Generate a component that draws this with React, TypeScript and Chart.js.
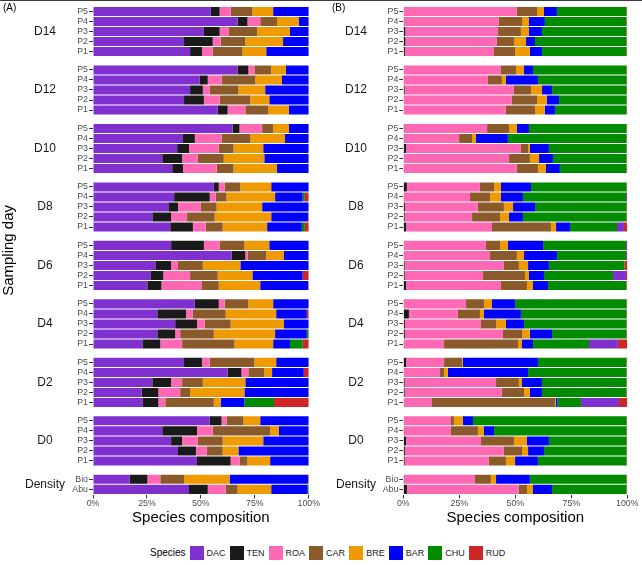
import { useEffect, useRef } from "react";
import { Chart, registerables } from "chart.js";

Chart.register(...registerables);

const days = ["D14", "D12", "D10", "D8", "D6", "D4", "D2", "D0"];
const plots = ["P5", "P4", "P3", "P2", "P1"];
const densityRows = ["Bio", "Abu"];
const groupLabels = [...days, "Density"];
const rowLabels = [...days.flatMap(() => plots), ...densityRows];

const species = ["DAC", "TEN", "ROA", "CAR", "BRE", "BAR", "CHU", "RUD"];
const speciesColors: Record<string, string> = {
  DAC: "#8030CF",
  TEN: "#1A1A1A",
  ROA: "#FF69B4",
  CAR: "#8B5A2B",
  BRE: "#EE9A00",
  BAR: "#0000FF",
  CHU: "#008B00",
  RUD: "#CD2626",
};

// Panel (A), rows top to bottom: D14 P5..P1, D12 ..., D0, Bio, Abu
const dacA = [
  54.6, 67.0, 51.4, 42.2, 45.0,
  67.0, 49.5, 45.0, 42.2, 57.8,
  64.7, 41.7, 39.0, 32.1, 36.7,
  56.0, 37.6, 34.9, 27.5, 35.8,
  36.2, 64.2, 28.9, 26.6, 25.2,
  47.2, 29.8, 38.1, 29.8, 22.9,
  42.2, 62.4, 27.5, 22.5, 22.9,
  54.1, 32.1, 36.2, 39.4, 48.2,
  17.0, 44.5,
];
const tenA = [
  4.1, 4.6, 7.3, 13.3, 5.5,
  5.0, 3.7, 5.9, 9.2, 4.6,
  3.2, 5.5, 5.5, 9.2, 5.0,
  2.3, 16.5, 4.5, 8.7, 10.5,
  15.2, 6.4, 7.3, 6.0, 6.5,
  11.1, 13.3, 10.1, 8.3, 8.3,
  8.3, 6.4, 8.7, 7.8, 7.4,
  5.5, 16.1, 5.1, 8.3, 15.6,
  8.2, 8.7,
];
const roaA = [
  5.1, 5.9, 4.1, 3.7, 5.0,
  2.8, 6.4, 3.2, 7.3, 8.2,
  10.5, 12.4, 13.8, 7.3, 15.6,
  2.7, 2.8, 10.6, 7.4, 6.0,
  7.3, 1.0, 3.2, 12.4, 18.8,
  2.7, 3.2, 3.6, 2.3, 10.1,
  3.6, 3.2, 5.1, 10.1, 3.2,
  2.3, 7.3, 7.3, 5.1, 4.1,
  6.0, 8.3,
];
const carA = [
  10.1, 7.8, 13.3, 11.4, 13.8,
  7.8, 15.6, 13.3, 14.2, 10.6,
  5.1, 13.3, 6.8, 12.0, 7.8,
  7.3, 5.0, 7.3, 12.8, 7.8,
  11.5, 8.7, 11.5, 12.8, 7.8,
  11.0, 15.2, 12.0, 15.6, 24.3,
  20.7, 7.4, 9.6, 4.6, 22.5,
  7.8, 26.6, 11.5, 7.3, 3.7,
  11.0, 5.5,
];
const breA = [
  9.6, 10.1, 15.2, 17.5, 11.0,
  6.8, 12.4, 12.4, 8.8, 9.6,
  7.3, 16.1, 13.8, 18.8, 20.2,
  14.3, 22.5, 21.1, 26.2, 20.6,
  11.5, 8.2, 17.4, 16.1, 19.2,
  11.5, 23.4, 24.7, 28.4, 17.9,
  10.1, 3.6, 19.7, 25.2, 3.2,
  7.8, 4.1, 18.8, 7.3, 10.5,
  21.1, 15.6,
];
const barA = [
  16.5, 4.6, 8.7, 11.9, 19.7,
  10.6, 12.4, 20.2, 18.3, 9.2,
  9.2, 11.0, 21.1, 20.6, 14.7,
  17.4, 12.8, 21.6, 17.1, 16.1,
  18.3, 11.5, 31.7, 23.3, 22.2,
  16.5, 14.2, 11.5, 14.7, 7.8,
  15.1, 14.7, 29.4, 29.8, 11.0,
  22.5, 13.8, 21.1, 32.6, 17.9,
  36.4, 16.9,
];
const chuA = [
  0, 0, 0, 0, 0,
  0, 0, 0, 0, 0,
  0, 0, 0, 0, 0,
  0, 1.0, 0, 0, 1.4,
  0, 0, 0, 0, 0,
  0, 0, 0, 0.9, 5.9,
  0, 0, 0, 0, 13.7,
  0, 0, 0, 0, 0,
  0, 0.5,
];
const rudA = [
  0, 0, 0, 0, 0,
  0, 0, 0, 0, 0,
  0, 0, 0, 0, 0,
  0, 1.8, 0, 0.3, 1.8,
  0, 0, 0, 2.8, 0.3,
  0, 0.9, 0, 0, 2.8,
  0, 2.3, 0, 0, 16.1,
  0, 0, 0, 0, 0,
  0.3, 0,
];

// Panel (B), same row order
const tenB = [
  0.3, 0.4, 0.9, 0.9, 0.7,
  0.3, 0.3, 0.6, 0.3, 0.2,
  0.4, 0.4, 1.2, 0.3, 0.2,
  1.6, 0.3, 0.7, 0.6, 1.2,
  0.3, 0.3, 0.6, 0.6, 1.2,
  0.3, 2.5, 0.7, 0.7, 0.2,
  1.2, 0.3, 0.6, 0.6, 0.3,
  0.3, 0.4, 1.2, 0.7, 0.6,
  0.4, 1.6,
];
const roaB = [
  50.4, 42.3, 41.4, 40.9, 39.8,
  43.3, 37.5, 48.8, 48.2, 45.6,
  37.0, 24.5, 51.3, 46.9, 50.5,
  32.6, 29.5, 32.6, 30.1, 38.4,
  36.6, 38.4, 44.3, 35.0, 42.4,
  27.7, 21.9, 34.0, 43.8, 18.0,
  17.0, 16.1, 40.8, 43.4, 12.5,
  21.0, 20.9, 33.5, 44.2, 37.6,
  31.6, 50.0,
];
const carB = [
  9.0, 10.3, 10.2, 7.6, 9.4,
  6.7, 6.2, 7.6, 11.2, 13.0,
  9.8, 5.8, 3.2, 9.3, 9.4,
  6.3, 8.9, 11.6, 12.5, 26.3,
  6.3, 12.0, 6.7, 18.7, 11.6,
  8.0, 9.8, 6.7, 8.5, 33.0,
  8.0, 1.8, 10.2, 9.9, 54.9,
  1.3, 12.0, 14.7, 8.1, 7.6,
  7.1, 3.6,
];
const breB = [
  3.1, 3.1, 3.6, 5.4, 6.6,
  3.6, 1.8, 4.9, 4.4, 4.4,
  3.5, 1.7, 0.8, 4.1, 3.6,
  3.1, 4.9, 4.1, 4.0, 2.3,
  3.5, 3.2, 4.1, 1.8, 2.7,
  3.6, 1.8, 4.4, 3.5, 1.8,
  0.4, 1.7, 1.4, 2.6, 0.3,
  4.0, 2.7, 5.8, 2.7, 4.1,
  2.3, 2.7,
];
const barB = [
  5.8, 7.1, 5.8, 4.0, 5.4,
  4.0, 14.3, 4.5, 5.4, 4.5,
  5.4, 14.3, 8.5, 6.2, 6.2,
  13.4, 9.8, 9.8, 6.2, 6.2,
  15.7, 14.7, 9.3, 6.7, 6.7,
  10.3, 16.5, 8.1, 9.9, 4.9,
  33.5, 35.8, 8.9, 5.4, 0.8,
  4.5, 4.5, 9.8, 7.1, 10.2,
  15.1, 8.5,
];
const chuB = [
  31.0, 36.4, 37.7, 40.8, 37.7,
  41.7, 39.5, 33.2, 30.1, 31.9,
  43.5, 52.9, 34.6, 32.8, 29.7,
  42.6, 46.0, 40.8, 46.2, 21.0,
  37.0, 30.8, 33.7, 30.8, 35.0,
  49.7, 47.1, 45.7, 33.2, 25.0,
  39.5, 43.9, 37.7, 37.7, 10.5,
  68.5, 59.1, 34.6, 36.8, 39.5,
  43.1, 33.2,
];
const dacB = [
  0, 0, 0, 0, 0,
  0, 0, 0, 0, 0,
  0, 0, 0, 0, 0,
  0, 0.6, 0, 0, 3.1,
  0.6, 0.6, 0, 5.8, 0,
  0, 0, 0, 0, 12.9,
  0, 0, 0, 0, 17.0,
  0, 0, 0, 0, 0,
  0, 0,
];
const rudB = [
  0.4, 0.4, 0.4, 0.4, 0.4,
  0.4, 0.4, 0.4, 0.4, 0.4,
  0.4, 0.4, 0.4, 0.4, 0.4,
  0.4, 0, 0.4, 0.4, 1.5,
  0, 0, 1.3, 0.6, 0.4,
  0.4, 0.4, 0.4, 0.4, 4.2,
  0.4, 0.4, 0.4, 0.4, 3.7,
  0.4, 0.4, 0.4, 0.4, 0.4,
  0.4, 0.4,
];

const seriesA: [string, number[]][] = [
  ["DAC", dacA], ["TEN", tenA], ["ROA", roaA], ["CAR", carA],
  ["BRE", breA], ["BAR", barA], ["CHU", chuA], ["RUD", rudA],
];
const seriesB: [string, number[]][] = [
  ["TEN", tenB], ["ROA", roaB], ["CAR", carB], ["BRE", breB],
  ["BAR", barB], ["CHU", chuB], ["DAC", dacB], ["RUD", rudB],
];

// facet layout on a linear y axis (units = one bar slot)
const FACET_GAP = 0.63;
const facetOf = (i: number) => Math.min(Math.floor(i / 5), days.length);
const rowPos = rowLabels.map((_, i) => {
  const f = facetOf(i);
  return f * (5.2 + FACET_GAP) + 0.6 + (i - f * 5);
});
const yMax = days.length * (5.2 + FACET_GAP) + densityRows.length + 0.2;

const FONT = "'Liberation Sans', Arial, sans-serif";

function groupLabelPlugin(x: number) {
  return {
    id: "groupLabels",
    afterDraw(chart: any) {
      const y = chart.scales.y;
      const ctx = chart.ctx;
      ctx.save();
      ctx.font = `12px ${FONT}`;
      ctx.fillStyle = "#1a1a1a";
      ctx.textAlign = "center";
      ctx.textBaseline = "middle";
      groupLabels.forEach((g, gi) => {
        const idx = rowLabels.map((_, i) => i).filter((i) => facetOf(i) === gi);
        const top = y.getPixelForValue(rowPos[idx[0]]);
        const bottom = y.getPixelForValue(rowPos[idx[idx.length - 1]]);
        ctx.fillText(g, x, (top + bottom) / 2);
      });
      ctx.restore();
    },
  };
}

interface PanelProps {
  series: [string, number[]][];
  left: number;
  axisWidth: number;
  rightPad: number;
  groupX: number;
  yTitle?: string;
}

function Panel({ series, left, axisWidth, rightPad, groupX, yTitle }: PanelProps) {
  const canvasRef = useRef<HTMLCanvasElement>(null);

  useEffect(() => {
    if (!canvasRef.current) return;
    const chart = new Chart(canvasRef.current, {
      type: "bar",
      data: {
        datasets: series.map(([name, values]) => ({
          label: name,
          data: values.map((v, i) => ({ x: v, y: rowPos[i] })),
          backgroundColor: speciesColors[name],
          borderWidth: 0,
          stack: "all",
          barPercentage: 0.9,
          categoryPercentage: 1,
        })),
      },
      options: {
        indexAxis: "y",
        responsive: false,
        animation: false,
        layout: { padding: { top: 5.2, left: 0, right: rightPad, bottom: 0 } },
        plugins: { legend: { display: false }, tooltip: { enabled: false } },
        scales: {
          x: {
            type: "linear",
            stacked: true,
            min: 0,
            max: 100,
            afterFit: (scale: any) => {
              scale.height = 31.6;
            },
            ticks: {
              stepSize: 25,
              callback: (v: any) => `${v}%`,
              color: "#4d4d4d",
              font: { family: FONT, size: 8.8, lineHeight: 1 },
              padding: 1,
              maxRotation: 0,
            },
            grid: { drawOnChartArea: false, drawTicks: true, tickLength: 3, color: "#333333" },
            border: { display: false },
            title: {
              display: true,
              text: "Species composition",
              color: "#000000",
              font: { family: FONT, size: 15, lineHeight: 1.2 },
              padding: 0,
            },
          },
          y: {
            type: "linear",
            reverse: true,
            offset: false,
            min: 0,
            max: yMax,
            afterFit: (scale: any) => {
              scale.width = axisWidth;
            },
            afterBuildTicks: (scale: any) => {
              scale.ticks = rowPos.map((v) => ({ value: v }));
            },
            ticks: {
              autoSkip: false,
              callback: (_v: any, i: number) => rowLabels[i],
              color: "#4d4d4d",
              font: { family: FONT, size: 8.8, lineHeight: 1 },
              padding: 1,
            },
            grid: {
              offset: false,
              drawOnChartArea: false,
              drawTicks: true,
              tickLength: 4,
              color: "#333333",
            },
            border: { display: false },
            title: {
              display: !!yTitle,
              text: yTitle || "",
              color: "#000000",
              font: { family: FONT, size: 15, lineHeight: 1.2 },
              padding: 0,
            },
          },
        },
      },
      plugins: [groupLabelPlugin(groupX)],
    });
    return () => chart.destroy();
  }, [series, axisWidth, rightPad, groupX, yTitle]);

  return (
    <canvas
      ref={canvasRef}
      width={321}
      height={527}
      style={{ position: "absolute", left, top: 0 }}
    />
  );
}

export default function App() {
  return (
    <div
      style={{
        position: "absolute",
        left: 0,
        top: 0,
        width: 642,
        height: 565,
        background: "#ffffff",
        fontFamily: FONT,
        overflow: "hidden",
      }}
    >
      <div style={{ position: "absolute", left: 0, top: 0, width: 642, height: 1, background: "#3a3a3a" }} />
      <Panel series={seriesA} left={0} axisWidth={93} rightPad={10} groupX={45} yTitle="Sampling day" />
      <Panel series={seriesB} left={321} axisWidth={82.3} rightPad={14.7} groupX={35} />
      <div style={{ position: "absolute", left: 3, top: 3, fontSize: 10, lineHeight: "10px", color: "#000" }}>(A)</div>
      <div style={{ position: "absolute", left: 332, top: 3, fontSize: 10, lineHeight: "10px", color: "#000" }}>(B)</div>
      <div
        style={{
          position: "absolute",
          left: 150,
          top: 545,
          height: 15,
          display: "flex",
          alignItems: "center",
          fontSize: 9,
          color: "#1a1a1a",
        }}
      >
        <span style={{ fontSize: 10, marginRight: 4, color: "#000" }}>Species</span>
        {species.map((s) => (
          <span key={s} style={{ display: "flex", alignItems: "center", marginRight: 4 }}>
            <span style={{ width: 14, height: 14, background: speciesColors[s], display: "inline-block" }} />
            <span style={{ marginLeft: 3 }}>{s}</span>
          </span>
        ))}
      </div>
    </div>
  );
}
